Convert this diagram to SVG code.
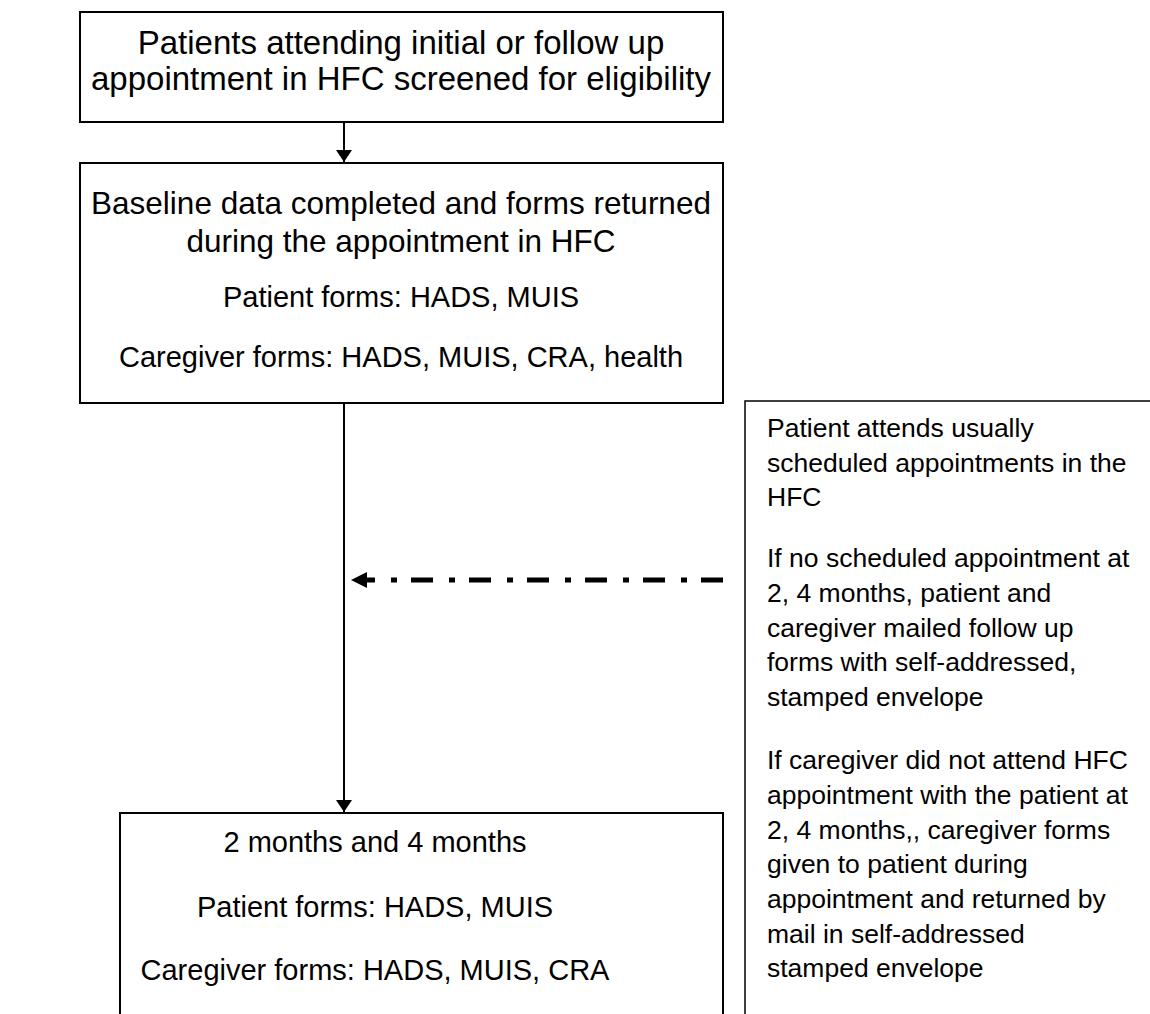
<svg xmlns="http://www.w3.org/2000/svg" width="1150" height="1014" viewBox="0 0 1150 1014">
<style>
.box{fill:#fff;stroke:#000;stroke-width:2}
.t{font-family:"Liberation Sans",Arial,sans-serif;fill:#000;text-anchor:middle}
.h1{font-size:33px}
.h2{font-size:31.5px}
.f{font-size:29px}
.r{font-family:"Liberation Sans",Arial,sans-serif;font-size:26.5px;fill:#000}
.ln{stroke:#000;stroke-width:2;fill:none}
.dd{stroke:#000;stroke-width:5;fill:none;stroke-dasharray:22 14 6 16}
</style>
<defs>
<marker id="ah" viewBox="0 0 12 16" refX="12" refY="8" markerWidth="12" markerHeight="16" markerUnits="userSpaceOnUse" orient="auto">
<path d="M0,0 L12,8 L0,16 Z" fill="#000"/>
</marker>
</defs>
<rect width="1150" height="1014" fill="#fff"/>
<g id="connectors">
<line class="ln" x1="344" y1="122" x2="344" y2="162" marker-end="url(#ah)"/>
<line class="ln" x1="344" y1="403" x2="344" y2="812" marker-end="url(#ah)"/>
<line class="dd" x1="723" y1="580" x2="367" y2="580"/>
<path d="M351,580 L367,572 L367,588 Z" fill="#000"/>
</g>
<g id="n1">
<rect class="box" x="80" y="12" width="643" height="110"/>
<text class="t h1" x="401" y="54">Patients attending initial or follow up</text>
<text class="t h1" x="401" y="90">appointment in HFC screened for eligibility</text>
</g>
<g id="n2">
<rect class="box" x="80" y="163" width="643" height="240"/>
<text class="t h2" x="401" y="214">Baseline data completed and forms returned</text>
<text class="t h2" x="401" y="252">during the appointment in HFC</text>
<text class="t f" x="401" y="307">Patient forms: HADS, MUIS</text>
<text class="t f" x="401" y="367">Caregiver forms: HADS, MUIS, CRA, health</text>
</g>
<g id="n3">
<rect class="box" x="120" y="813" width="603" height="220"/>
<text class="t f" x="375" y="852">2 months and 4 months</text>
<text class="t f" x="375" y="917">Patient forms: HADS, MUIS</text>
<text class="t f" x="375" y="980">Caregiver forms: HADS, MUIS, CRA</text>
</g>
<g id="n4">
<rect class="box" x="745" y="401" width="420" height="640" style="stroke-width:1.5"/>
<text class="r" x="767" y="437">Patient attends usually</text>
<text class="r" x="767" y="472">scheduled appointments in the</text>
<text class="r" x="767" y="506">HFC</text>
<text class="r" x="767" y="567">If no scheduled appointment at</text>
<text class="r" x="767" y="602">2, 4 months, patient and</text>
<text class="r" x="767" y="637">caregiver mailed follow up</text>
<text class="r" x="767" y="671">forms with self-addressed,</text>
<text class="r" x="767" y="706">stamped envelope</text>
<text class="r" x="767" y="769">If caregiver did not attend HFC</text>
<text class="r" x="767" y="804">appointment with the patient at</text>
<text class="r" x="767" y="839">2, 4 months,, caregiver forms</text>
<text class="r" x="767" y="873">given to patient during</text>
<text class="r" x="767" y="908">appointment and returned by</text>
<text class="r" x="767" y="943">mail in self-addressed</text>
<text class="r" x="767" y="977">stamped envelope</text>
</g>
</svg>
